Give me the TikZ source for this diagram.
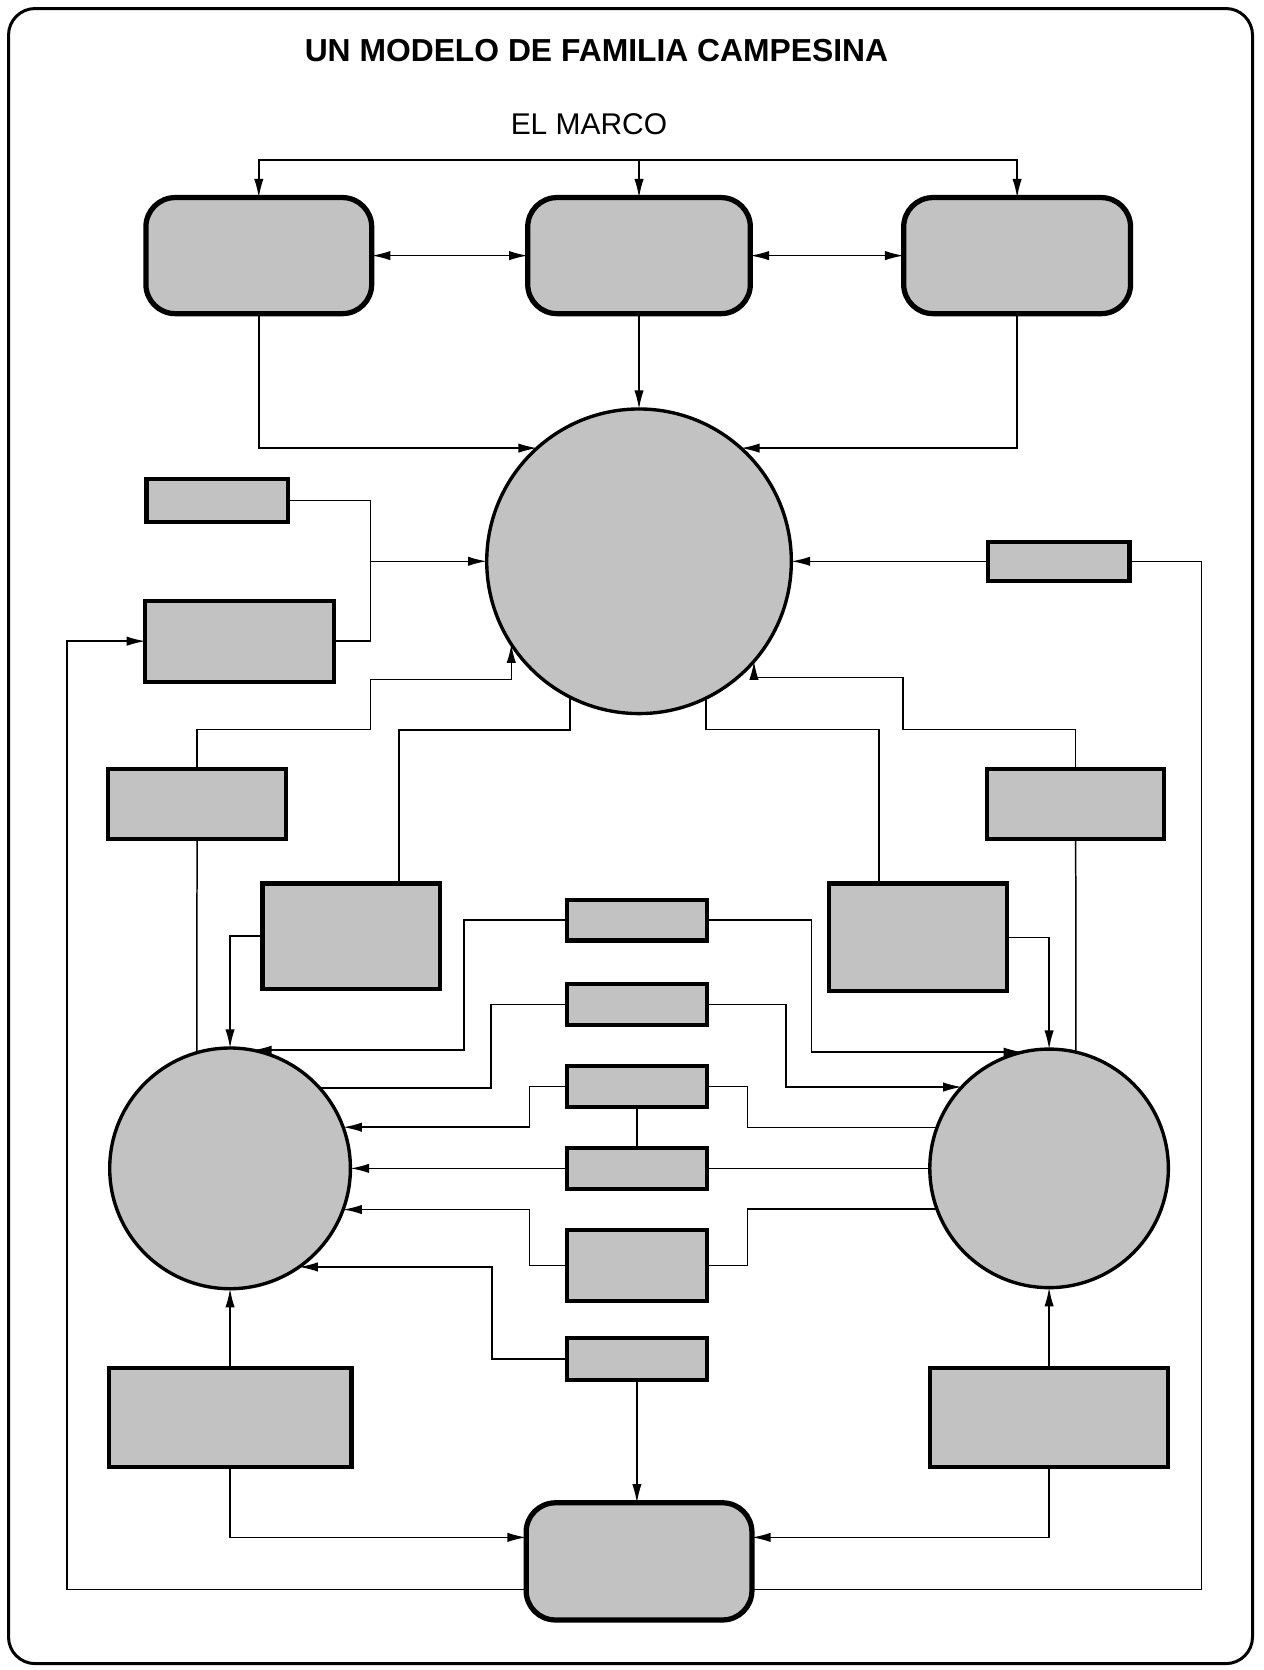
\documentclass[tikz,border=0pt]{standalone}
\usepackage{fontspec}
\setmainfont{Liberation Sans}
\usetikzlibrary{arrows.meta}
\definecolor{punteado}{gray}{0.76}

\begin{document}
		\begin{tikzpicture}[x=0.2mm, y=-0.2mm, >={Latex[length=10pt,width=5pt]}, line width=0.8pt,
			caja/.style={draw, fill=punteado, line width=2.2pt, inner sep=0pt, outer sep=0pt},
			marcobox/.style={caja, line width=2.8pt, rounded corners=5.5mm},
			rueda/.style={draw, fill=punteado, circle, line width=1.8pt, inner sep=0pt, outer sep=0pt}]
			\useasboundingbox (0,0) rectangle (1186,1568);
			
			% 1. 外框与标题
			\draw[line width=1.6pt, rounded corners=5mm] (8,8) rectangle (1176,1562);
			\node[font=\bfseries\fontsize{17}{20}\selectfont] (titulo) at (560,47) {UN MODELO DE FAMILIA CAMPESINA};
			\node[font=\fontsize{16}{19}\selectfont] (elmarco) at (553,117) {EL MARCO};
			
			% 2. 上方三个圆角框
			\node[marcobox, minimum width=42.4mm, minimum height=21.8mm] (a) at (243,240) {};
			\node[marcobox, minimum width=41.8mm, minimum height=21.8mm] (b) at (600,240) {};
			\node[marcobox, minimum width=42.6mm, minimum height=21.8mm] (c) at (955,240) {};
			
			% 3. 中间大圆和两侧的小圆
			\node[rueda, minimum size=57.2mm] (c0) at (600,527) {};
			\node[rueda, minimum size=45.2mm] (lc) at (216,1097) {};
			\node[rueda, minimum size=44.8mm] (rc) at (985,1097) {};
			
			% 4. 左右两侧的矩形框
			\node[caja, minimum width=26.6mm, minimum height=8mm] (l1) at (204,470) {};
			\node[caja, minimum width=35.4mm, minimum height=15.2mm] (l2) at (225,602) {};
			\node[caja, minimum width=26.6mm, minimum height=7.4mm] (r1) at (994,527) {};
			\node[caja, minimum width=33.4mm, minimum height=13.2mm] (l3) at (185,755) {};
			\node[caja, minimum width=33.2mm, minimum height=13.2mm] (r3) at (1010,755) {};
			\node[caja, minimum width=33.4mm, minimum height=19.8mm] (l4) at (330,879) {};
			\node[caja, minimum width=33.4mm, minimum height=20.2mm] (r4) at (862,880) {};
			\node[caja, minimum width=45.6mm, minimum height=18.6mm] (lb) at (216,1331) {};
			\node[caja, minimum width=44.8mm, minimum height=18.6mm] (rb) at (985,1331) {};
			
			% 5. 中间一列矩形框
			\node[caja, minimum width=26.2mm, minimum height=7.6mm] (m1) at (598,864) {};
			\node[caja, minimum width=26.4mm, minimum height=7.8mm] (m2) at (598,943) {};
			\node[caja, minimum width=26.4mm, minimum height=7.8mm] (m3) at (598,1020) {};
			\node[caja, minimum width=26.4mm, minimum height=7.8mm] (m4) at (598,1097) {};
			\node[caja, minimum width=26.4mm, minimum height=13.4mm] (m5) at (598,1188) {};
			\node[caja, minimum width=26.4mm, minimum height=7.8mm] (m6) at (598,1276) {};
			
			% 6. 下方圆角框
			\node[marcobox, minimum width=42.4mm, minimum height=22mm] (bot) at (600,1466) {};
			
			% 7. 上部的连线
			\coordinate (reparto) at (600,150);
			\draw[->] (reparto) -| (a.north);
			\draw[->] (reparto) -| (c.north);
			\draw[->] (reparto) -- (b.north);
			\draw[<->] (a.east) -- (b.west);
			\draw[<->] (b.east) -- (c.west);
			\draw[->] (a.south) |- (c0.132);
			\draw[->] (c.south) |- (c0.48);
			\draw[->] (b.south) -- (c0.north);
			
			% 8. 大圆周围的连线
			\coordinate (jl) at (348,527);
			\draw (l1.east) -| (jl) |- (l2.east);
			\draw[->] (jl) -- (c0.west);
			\draw[->] (r1.west) -- (c0.east);
			\draw[<-] (c0.213) -- ++(0,33) -| ++(-132,47) -| (l3.north);
			\draw (c0.243) -- ++(0,31) -| (l4.48);
			\draw (c0.296) -- ++(0,29.5) -| (r4.126);
			\draw[<-] (c0.319) -- ++(0,15.5) -| ++(140,48.5) -| (r3.north);
			
			% 9. 左圆的连线
			\draw (l3.south) -- (lc.106);
			\draw[->] (l4.west) -| (lc.north);
			\draw[<-] (lc.79) -- ++(198,0) |- (m1.west);
			\draw (lc.42) -- ++(161,0) |- (m2.west);
			\draw[<-] (lc.20) -- ++(175,0) |- (m3.west);
			\draw[<-] (lc.east) -- (m4.west);
			\draw[<-] (lc.340) -- ++(175,0) |- (m5.west);
			\draw[<-] (lc.305) -- ++(181,0) |- (m6.west);
			
			% 10. 右圆的连线
			\draw (r3.south) -- (rc.77);
			\draw[->] (r4.east) -| (rc.north);
			\draw[<-] (rc.103) -- ++(-198,0) |- (m1.east);
			\draw[<-] (rc.137) -- ++(-165,0) |- (m2.east);
			\draw (rc.160) -- ++(-178,0) |- (m3.east);
			\draw (m4.east) -- (rc.west);
			\draw (rc.200) -- ++(-178,0) |- (m5.east);
			\draw (m3.south) -- (m4.north);
			
			% 11. 下部的连线
			\draw[->] (m6.south) -- (m6.south |- bot.north);
			\draw[->] (lb.north) -- (lc.south);
			\draw[->] (rb.north) -- (rc.south);
			\draw[->] (lb.south) |- (bot.168);
			\draw[->] (rb.south) |- (bot.12);
			\draw[->] (bot.194) -- ++(-431,0) |- (l2.west);
			\draw (bot.346) -- ++(422,0) |- (r1.east);
			
		\end{tikzpicture}
\end{document}
